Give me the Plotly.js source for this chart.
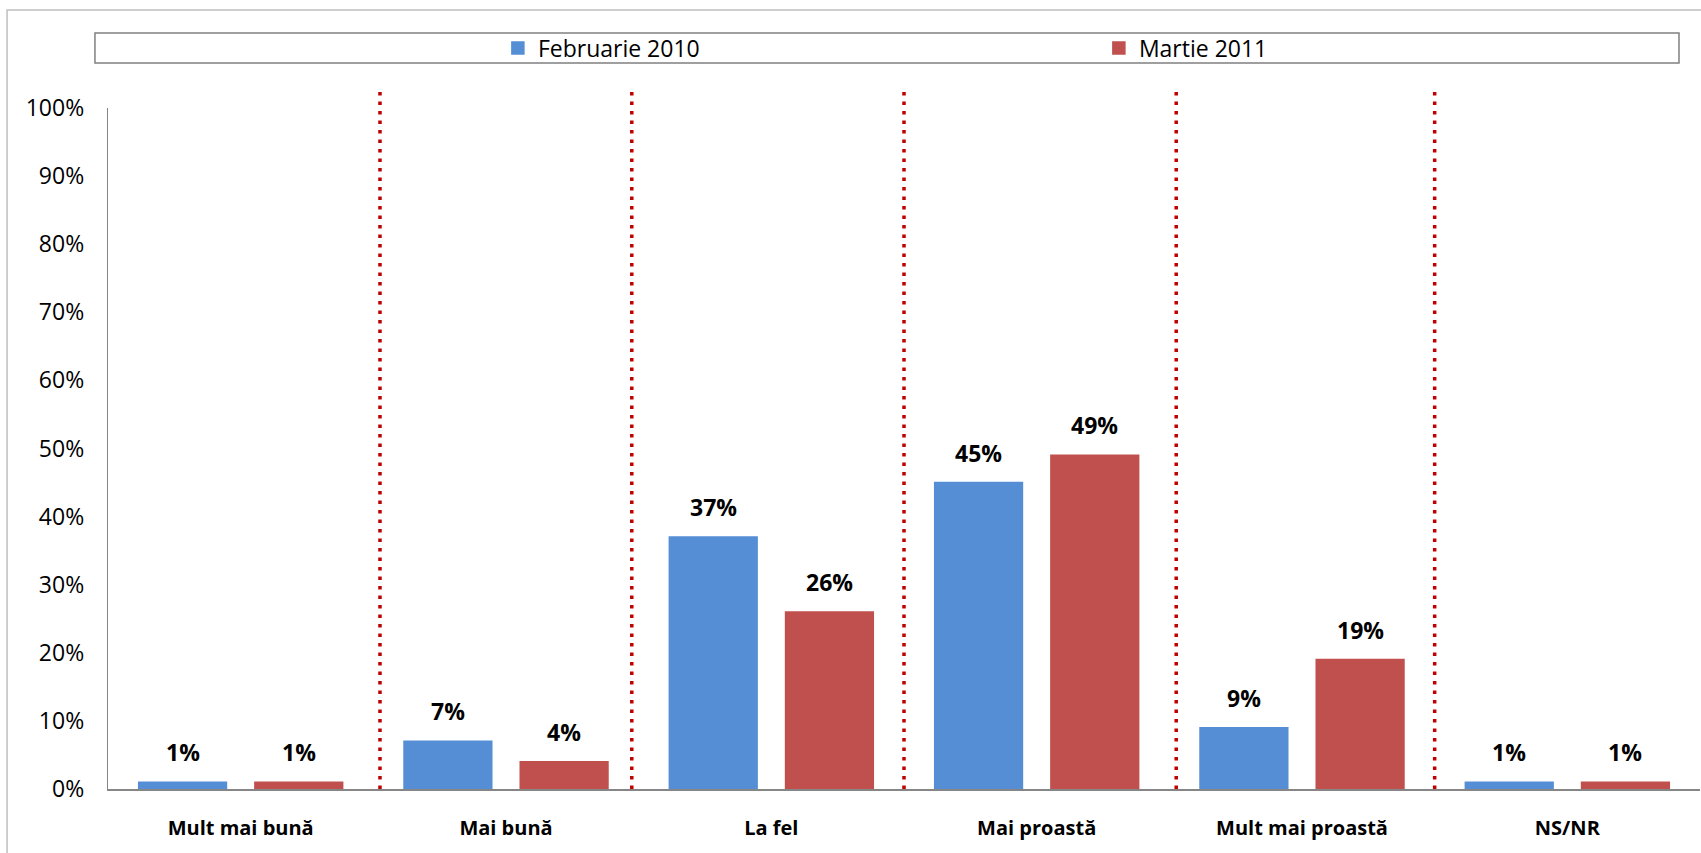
<!DOCTYPE html>
<html>
<head>
<meta charset="utf-8">
<script src="https://cdn.plot.ly/plotly-3.0.1.min.js"></script>
<style>
  html, body { margin: 0; padding: 0; background: #ffffff; }
  #chart { width: 1701px; height: 853px; }
</style>
</head>
<body>
<div id="chart"></div>
<script>
// ---- data ----
const categories = ['Mult mai bună', 'Mai bună', 'La fel', 'Mai proastă', 'Mult mai proastă', 'NS/NR'];
const seriesNames = ['Februarie 2010', 'Martie 2011'];
const feb2010 = [1, 7, 37, 45, 9, 1];
const mar2011 = [1, 4, 26, 49, 19, 1];
const yTickValues = [0, 10, 20, 30, 40, 50, 60, 70, 80, 90, 100];
// dotted separators between categories (category-index units)
const separators = [0.525, 1.474, 2.5, 3.526, 4.5];

const FONT = '"Open Sans", "Noto Sans", "Liberation Sans", sans-serif';
const BLUE = '#558ED5';
const RED = '#C0504D';
const BARGAP = 0.124;
const BARGROUPGAP = 0.245;
const slot = (1 - BARGAP) / 2;

const traces = [
  { type: 'bar', name: seriesNames[0], x: categories, y: feb2010, legendwidth: 556,
    marker: { color: BLUE, line: { width: 1.5, color: BLUE } }, hoverinfo: 'skip' },
  { type: 'bar', name: seriesNames[1], x: categories, y: mar2011, legendwidth: 150,
    marker: { color: RED, line: { width: 1.5, color: RED } }, hoverinfo: 'skip' }
];

const annotations = [];
[feb2010, mar2011].forEach((vals, s) => {
  const off = (s === 0 ? -1 : 1) * slot / 2;
  vals.forEach((v, i) => {
    annotations.push({
      x: i + off, y: v, xref: 'x', yref: 'y',
      text: '<b>' + v + '%</b>', showarrow: false,
      xanchor: 'center', yanchor: 'bottom', yshift: 12,
      font: { family: FONT, size: 23, color: '#000000' }
    });
  });
});

const shapes = [];
// outer chart border
shapes.push({ type: 'rect', xref: 'paper', yref: 'paper',
  x0: -0.0634, x1: 1.03, y0: -0.2, y1: 1.1439,
  line: { color: '#BFBFBF', width: 1.5 }, fillcolor: 'rgba(0,0,0,0)', layer: 'below' });
// legend box
shapes.push({ type: 'rect', xref: 'paper', yref: 'paper',
  x0: -0.0082, x1: 0.9868, y0: 1.0661, y1: 1.1101,
  line: { color: '#808080', width: 1.5 }, fillcolor: 'rgba(0,0,0,0)', layer: 'below' });
separators.forEach(p => {
  shapes.push({ type: 'line', xref: 'x', yref: 'paper',
    x0: p, x1: p, y0: 0, y1: 1.031,
    line: { color: '#C00000', width: 3.5, dash: '3.5px,6px' } });
});

const layout = {
  width: 1701, height: 853,
  margin: { l: 108, r: 1, t: 108, b: 64, pad: 0 },
  paper_bgcolor: '#ffffff', plot_bgcolor: '#ffffff',
  font: { family: FONT, color: '#000000' },
  barmode: 'group', bargap: BARGAP, bargroupgap: BARGROUPGAP,
  showlegend: true,
  legend: {
    orientation: 'h', x: 0.2449, xanchor: 'left', y: 1.088, yanchor: 'middle',
    font: { family: FONT, size: 23, color: '#000000' },
    entrywidthmode: 'pixels',
    bgcolor: 'rgba(0,0,0,0)', borderwidth: 0, itemclick: false
  },
  xaxis: {
    type: 'category', range: [-0.5, 5.5],
    showline: true, linecolor: '#868686', linewidth: 1.5,
    ticks: '', showgrid: false, zeroline: false,
    tickfont: { family: FONT, size: 20, color: '#000000', weight: 'bold' },
    ticklabelstandoff: 20
  },
  yaxis: {
    range: [0, 100], tickvals: yTickValues, ticktext: yTickValues.map(v => v + '%'),
    showline: true, linecolor: '#868686', linewidth: 1.2,
    ticks: '', showgrid: false, zeroline: false,
    tickfont: { family: FONT, size: 23, color: '#000000' },
    ticklabelstandoff: 18
  },
  annotations: annotations,
  shapes: shapes
};

Plotly.newPlot('chart', traces, layout, { staticPlot: true, displayModeBar: false });
</script>
</body>
</html>
